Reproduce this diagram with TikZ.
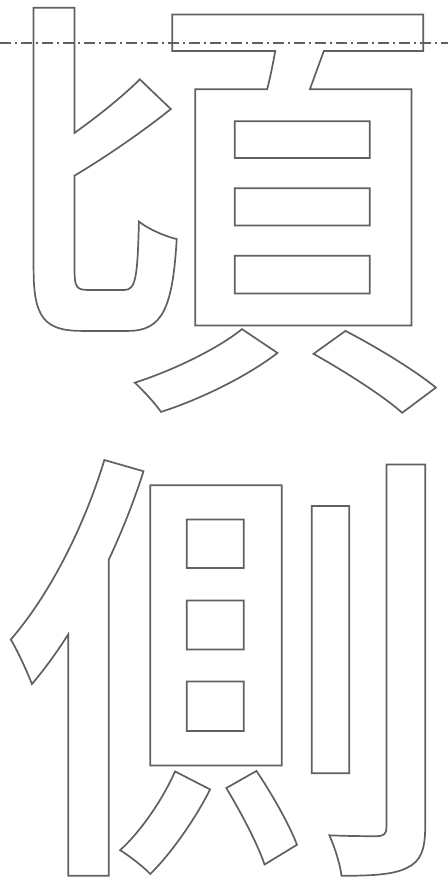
\documentclass[tikz,border=0pt]{standalone}
\usepackage{fontspec}
\IfFontExistsTF{Noto Sans CJK JP Medium}
  {\newfontfamily\cjk{Noto Sans CJK JP Medium}}
  {\newfontfamily\cjk{Noto Sans CJK JP}}
\newcommand\outlinetext[1]{\special{pdf:literal direct 1 Tr 1.7 w}#1\special{pdf:literal direct 0 Tr}}
\definecolor{glyphgray}{HTML}{606060}
\tikzset{
  glyph/.style={anchor=base west, inner sep=0pt, outer sep=0pt, text=glyphgray,
    font=\cjk\fontsize{450bp}{450bp}\selectfont},
  axisline/.style={draw=glyphgray, line width=1.3bp, dash pattern=on 11bp off 4bp on 2bp off 4bp}
}
\begin{document}
\begin{tikzpicture}[x=1bp,y=-1bp]
\useasboundingbox (0,0) rectangle (448,890);
\node[glyph] (c1) at (-6,375) {\outlinetext{頃}};
\node[glyph] (c2) at (4,838) {\outlinetext{側}};
\coordinate (l1) at (0,43);
\coordinate (l2) at (448,43);
\draw[axisline] (l1) -- (l2);
\end{tikzpicture}
\end{document}
